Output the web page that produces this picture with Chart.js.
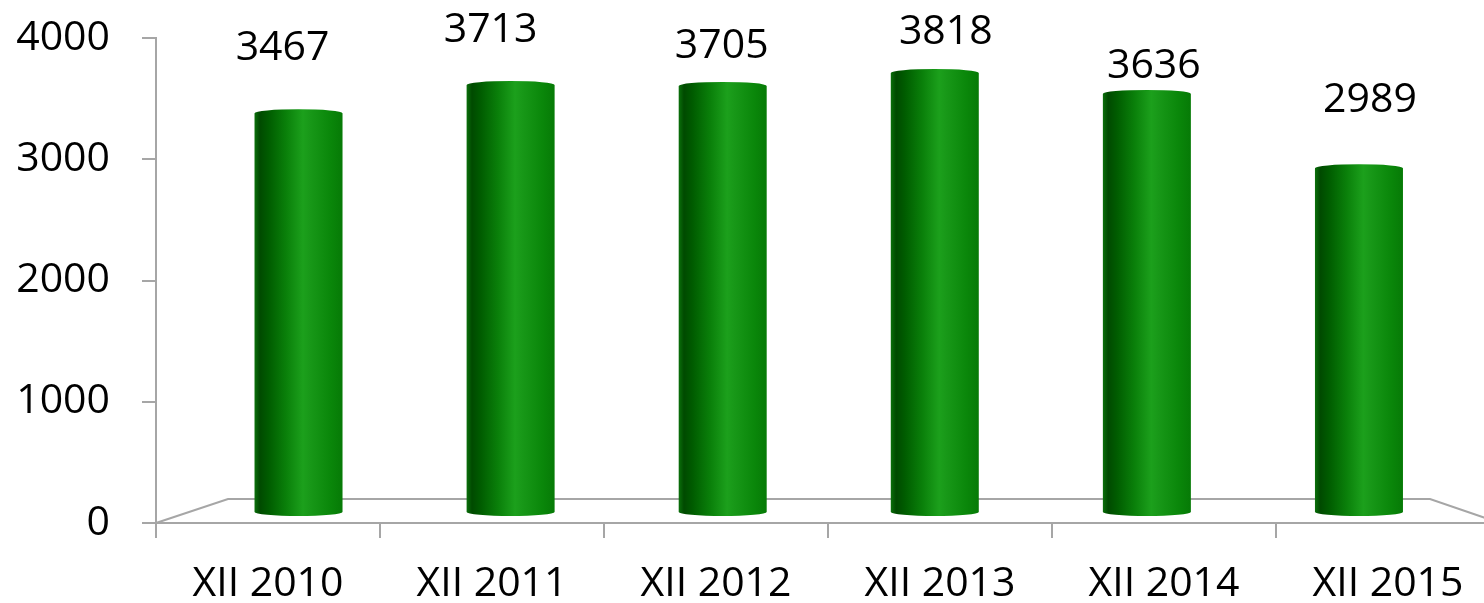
<!DOCTYPE html>
<html>
<head>
<meta charset="utf-8">
<script src="https://cdn.jsdelivr.net/npm/chart.js@4/dist/chart.umd.min.js"></script>
<style>
  html, body { margin:0; padding:0; background:#fff; overflow:hidden; }
  #wrap { width:1520px; height:603px; }
</style>
</head>
<body>
<div id="wrap"><canvas id="chart"></canvas></div>
<script>
const categories = ['XII 2010', 'XII 2011', 'XII 2012', 'XII 2013', 'XII 2014', 'XII 2015'];
const values = [3467, 3713, 3705, 3818, 3636, 2989];
const yTicks = [0, 1000, 2000, 3000, 4000];

const axisGrey = '#a6a6a6';
const font = { family: "'Open Sans', 'Noto Sans', sans-serif", size: 41, lineHeight: 0.9 };

// label placement tweaks (excel 3d labels are not evenly placed)
const labelNudge = [[-16, -65], [-20, -55], [-1, -40], [11, -41], [7, -28], [11, -68]];

// floor of the 3d plot
const floorPlugin = {
  id: 'floor',
  beforeDatasetsDraw(chart) {
    const { ctx, chartArea: a } = chart;
    ctx.save();
    ctx.strokeStyle = axisGrey;
    ctx.lineWidth = 2;
    ctx.beginPath();
    ctx.moveTo(a.left, a.bottom);
    ctx.lineTo(a.left + 72, a.bottom - 24);
    ctx.lineTo(a.right - 70, a.bottom - 24);
    ctx.lineTo(a.right, a.bottom);
    ctx.stroke();
    ctx.restore();
  }
};

// draw each bar as a shaded cylinder + value label
const cylinderPlugin = {
  id: 'cylinders',
  afterDatasetsDraw(chart) {
    const { ctx } = chart;
    const meta = chart.getDatasetMeta(0);
    ctx.save();
    meta.data.forEach((el, i) => {
      const { x, y, base, width } = el.getProps(['x', 'y', 'base', 'width'], true);
      const l = x - width / 2, r = x + width / 2;
      const g = ctx.createLinearGradient(l, 0, r, 0);
      g.addColorStop(0, '#0b700b');
      g.addColorStop(0.06, '#004a00');
      g.addColorStop(0.16, '#005c00');
      g.addColorStop(0.36, '#0a800a');
      g.addColorStop(0.55, '#1ca01c');
      g.addColorStop(0.63, '#189818');
      g.addColorStop(0.86, '#0a870a');
      g.addColorStop(1, '#067a06');
      ctx.beginPath();
      ctx.moveTo(l, y);
      ctx.ellipse(x, y, width / 2, 4, 0, Math.PI, 2 * Math.PI);
      ctx.lineTo(r, base);
      ctx.ellipse(x, base, width / 2, 4, 0, 0, Math.PI);
      ctx.closePath();
      ctx.fillStyle = g;
      ctx.fill();

      const [dx, dy] = labelNudge[i];
      ctx.fillStyle = '#000';
      ctx.font = `${font.size}px ${font.family}`;
      ctx.textAlign = 'center';
      ctx.textBaseline = 'middle';
      ctx.fillText(String(values[i]), x + dx, y + dy);
    });
    ctx.restore();
  }
};

new Chart(document.getElementById('chart'), {
  type: 'bar',
  data: {
    labels: categories,
    datasets: [{
      data: values.map((v, i) => ({ x: i, y: v })),
      xAxisID: 'xb',
      yAxisID: 'yb',
      backgroundColor: 'rgba(0,0,0,0)',
      borderWidth: 0,
      barThickness: 88
    }]
  },
  options: {
    responsive: true,
    maintainAspectRatio: false,
    animation: false,
    layout: { padding: { top: 38, right: 20, left: 0, bottom: 0 } },
    plugins: { legend: { display: false }, tooltip: { enabled: false } },
    scales: {
      x: {
        type: 'category',
        labels: categories,
        offset: true,
        afterFit: s => { s.height = 80; s.paddingLeft = 0; s.paddingRight = 0; },
        grid: { offset: true, drawOnChartArea: false, color: axisGrey, lineWidth: 2, tickLength: 15 },
        border: { color: axisGrey, width: 2 },
        ticks: { color: '#000', font: font, padding: 28, maxRotation: 0, autoSkip: false }
      },
      y: {
        type: 'linear',
        position: 'left',
        min: yTicks[0],
        max: yTicks[yTicks.length - 1],
        afterBuildTicks: s => { s.ticks = yTicks.map(v => ({ value: v })); },
        afterFit: s => { s.width = 156; s.paddingTop = 0; s.paddingBottom = 0; },
        grid: { drawOnChartArea: false, color: axisGrey, lineWidth: 2, tickLength: 14 },
        border: { color: axisGrey, width: 2 },
        ticks: { color: '#000', font: font, padding: 32, callback: v => String(v) }
      },
      // hidden scales for the bars sitting on the back of the 3d floor
      xb: { type: 'linear', display: false, offset: false, grid: { offset: false }, min: -0.672, max: 5.665 },
      yb: { type: 'linear', display: false, min: -96, max: 4122 }
    }
  },
  plugins: [floorPlugin, cylinderPlugin]
});
</script>
</body>
</html>
